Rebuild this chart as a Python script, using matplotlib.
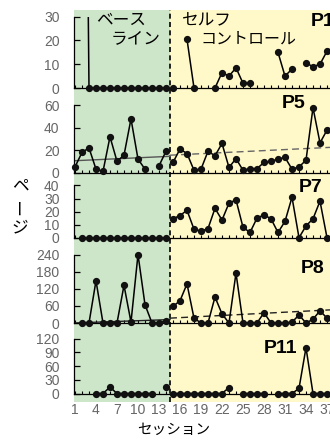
import numpy as np
import matplotlib
matplotlib.use('Agg')
import matplotlib.pyplot as plt

plt.rcParams['font.family'] = ['Liberation Sans Narrow', 'Liberation Sans', 'DejaVu Sans']
JP = ['Noto Sans CJK JP', 'DejaVu Sans']

nan = np.nan
sessions = np.arange(1, 38)
base_s = sessions[:14]
treat_s = sessions[14:]

# P1 (session 2 is off the scale)
p1_base = [nan, 300, 0, 0, 0, 0, 0, 0, 0, 0, 0, 0, 0, 0]
p1_treat = [0, nan, 20.5, 0, nan, nan, 0, 6.5, 5, 8.5, 2, 2, nan, nan, nan,
            15, 5, 8, nan, 10.5, 9, 10, 15.5]
# P5
p5_base = [5, 18, 22, 3, 1, 32, 10, 15.5, 48, 12, 3, nan, 6, 19]
p5_treat = [9, 21, 17, 2, 3, 19, 15, 26, 4.5, 12.5, 2, 3.5, 3.5, 9, 10, 12,
            13.5, 3, 5, 11, 58, 26.5, 38]
p5_base_trend = [10.5, 14.5]
p5_treat_trend = [15.5, 22.5]
# P7
p7_base = [nan, 0, 0, 0, 0, 0, 0, 0, 0, 0, 0, 0, 0, 0]
p7_treat = [14.5, 17, 21, 6.5, 5, 7, 22.5, 13.5, 26.5, 29, 8, 4, 15, 17.5,
            14.5, 4, 12.5, 31, 0, 9, 14.5, 28, 0]
# P8
p8_base = [nan, 0, 0, 148, 0, 0, 0, 132, 3, 240, 64, 0, 0, 8]
p8_treat = [58, 78, 137, 17, 0, 0, 91, 32, 0, 175, 0, 0, 0, 36, 0, 0, 0, 3,
            28, 0, 13, 43, 17]
p8_base_trend = [0, 12]
p8_treat_trend = [17, 46]
# P11
p11_base = [nan, nan, nan, 0, 0, 14, 0, 0, 0, 0, 0, 0, nan, 14]
p11_treat = [0, 0, 0, 0, 0, 0, 0, 0, 13, nan, 0, 0, 0, 0, nan, 0, 0, 0, 11,
             100, 0, 0, 0]

xtick_labels = [str(s) if (s - 1) % 3 == 0 else '' for s in sessions]

W_PX, H_PX = 330, 440
fig = plt.figure(figsize=(3.3, 4.4), dpi=100)

# horizontal layout: session s sits at 75 + (s-1)*7 px
L_PX = 73.5
XL = 1 + (L_PX - 75) / 7
XR = 1 + (W_PX - 75) / 7
PHASE = 1 + (170 - 75) / 7
GREEN = '#cde5c8'
YELLOW = '#fff8c8'
TICK_COL = '#666666'


def axes_box(top_px, bottom_px):
    return [L_PX / W_PX, 1 - bottom_px / H_PX, (W_PX - L_PX) / W_PX,
            (bottom_px - top_px) / H_PX]


bg = fig.add_axes(axes_box(10, 402))
bg.set_xlim(XL, XR)
bg.set_ylim(0, 1)
bg.axvspan(XL, PHASE, color=GREEN, lw=0)
bg.axvspan(PHASE, XR, color=YELLOW, lw=0)
bg.axvline(PHASE, color='k', lw=1.2, dashes=(3, 2))
bg.axis('off')


def panel(top_px, zero_px, top_val, yticks, base, treat, name, name_xy,
          bottom=False):
    ax = fig.add_axes(axes_box(top_px, zero_px))
    ax.patch.set_alpha(0)
    ax.set_xlim(XL, XR)
    ax.set_ylim(0, top_val)
    for sp in ['top', 'right']:
        ax.spines[sp].set_visible(False)
    ax.spines['left'].set_linewidth(0.9)
    ax.spines['bottom'].set_linewidth(0.9)
    ax.set_yticks(yticks)
    ax.tick_params(axis='y', direction='in', length=4, width=0.9, pad=10,
                   labelsize=10, labelcolor=TICK_COL)
    ax.set_xticks(sessions)
    ax.tick_params(axis='x', direction='in', length=2.2, width=0.8, pad=7,
                   labelsize=10, labelcolor=TICK_COL)
    if bottom:
        ax.set_xticklabels(xtick_labels)
    else:
        ax.set_xticklabels([])
    for xs, ys in [(base_s, base), (treat_s, treat)]:
        ys = np.array(ys, dtype=float)
        ax.plot(xs, ys, color='k', lw=1.1, zorder=3)
        shown = np.where(ys <= top_val * 1.01, ys, np.nan)
        ax.plot(xs, shown, 'o', color='#111111', ms=4.2, clip_on=False,
                zorder=4)
    fig.text(name_xy[0] / W_PX, 1 - name_xy[1] / H_PX, name, fontsize=14,
             fontweight='bold', family=['Liberation Sans', 'DejaVu Sans'],
             ha='left', va='center')
    return ax


ax1 = panel(16.7, 88, 30, [0, 10, 20, 30], p1_base, p1_treat, 'P1',
            (311, 22))
ax5 = panel(105.5, 172.5, 60, [0, 20, 40, 60], p5_base, p5_treat, 'P5',
            (282, 104))
ax5.plot([XL, PHASE], p5_base_trend, color='#555555', lw=1.0, zorder=2)
ax5.plot([PHASE, XR], p5_treat_trend, color='#666666', lw=1.0,
         dashes=(5, 3), zorder=2)
ax7 = panel(185.5, 237.7, 40, [0, 10, 20, 30, 40], p7_base, p7_treat, 'P7',
            (299, 187))
ax8 = panel(254.5, 323, 240, [0, 60, 120, 180, 240], p8_base, p8_treat, 'P8',
            (301, 268))
ax8.plot([XL, PHASE], p8_base_trend, color='#222222', lw=1.0, zorder=2)
ax8.plot([PHASE, XR], p8_treat_trend, color='#222222', lw=1.0,
         dashes=(5, 3), zorder=2)
ax11 = panel(338.5, 393.5, 120, [0, 30, 60, 90, 120], p11_base, p11_treat,
             'P11', (264, 348), bottom=True)

# phase labels
fig.text(121 / W_PX, 1 - 20 / H_PX, 'ベース', family=JP, fontsize=12,
         ha='center', va='center')
fig.text(136 / W_PX, 1 - 39 / H_PX, 'ライン', family=JP, fontsize=12,
         ha='center', va='center')
fig.text(207 / W_PX, 1 - 21 / H_PX, 'セルフ', family=JP, fontsize=12,
         ha='center', va='center')
fig.text(248 / W_PX, 1 - 39 / H_PX, 'コントロール', family=JP, fontsize=11.5,
         ha='center', va='center')

# vertical y label
fig.text(20 / W_PX, 1 - 186 / H_PX, 'ペ', family=JP, fontsize=12,
         ha='center', va='center')
fig.text(20 / W_PX, 1 - 207 / H_PX, 'ー', family=JP, fontsize=12,
         ha='center', va='center', rotation=90)
fig.text(20 / W_PX, 1 - 228 / H_PX, 'ジ', family=JP, fontsize=12,
         ha='center', va='center')

fig.text(174 / W_PX, 1 - 430 / H_PX, 'セッション', family=JP, fontsize=10.5,
         ha='center', va='center')

fig.savefig('out.png', dpi=100)
